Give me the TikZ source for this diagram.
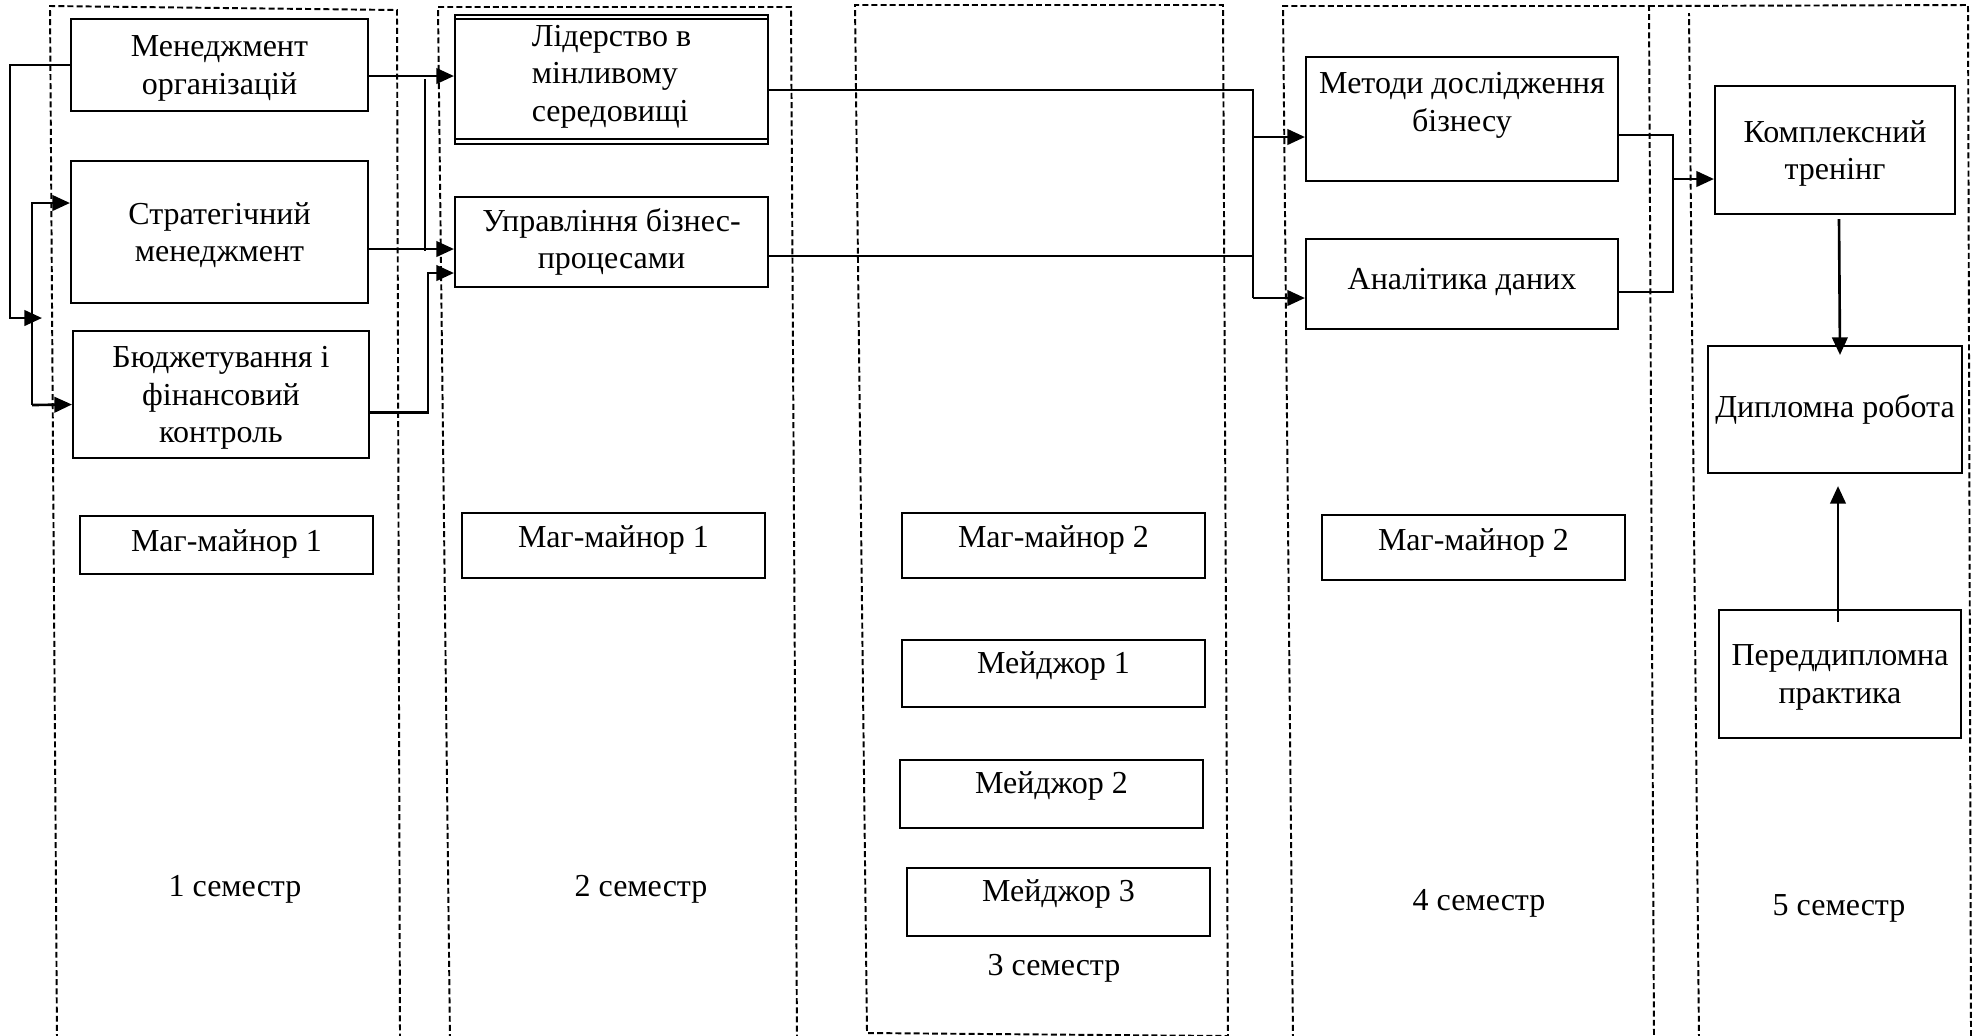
\documentclass[tikz,border=0pt]{standalone}
\usepackage{fontspec}
\setmainfont{Liberation Serif}
\usetikzlibrary{calc,arrows.meta}

\tikzset{
	box/.style={draw, line width=0.6pt, inner sep=0pt, align=center},
	wh/.style 2 args={minimum width=#1*0.01cm, minimum height=#2*0.01cm},
	lift/.style={text height=6.3pt, text depth=#1},
	sink/.style={text depth=0pt},
	col/.style={line width=0.55pt, dash pattern=on 1.7pt off 0.9pt},
	link/.style={line width=0.75pt},
	arr/.style={-{Triangle[length=5pt,width=4.4pt]}},
}

\begin{document}
\begin{tikzpicture}[x=0.01cm, y=-0.01cm, font=\fontsize{9.1}{10.7}\selectfont]
\useasboundingbox (0,0) rectangle (1972,1035);

% semesters
\draw[col] (57,1040) -- (50,6) -- (397,10) -- (400,1040);
\draw[col] (450,1040) -- (438,7) -- (791,7) -- (797,1040);
\draw[col] (1228,1040) -- (1223,5) -- (855,5) -- (867,1033) -- (1228,1036);
\draw[col] (1293,1040) -- (1283,6) -- (1649,6) -- (1654,1040);
\draw[col] (1699,1040) -- (1689,13);
\draw[col] (1649,6) -- (1968,5) -- (1971,1040);

% 1 semester
\node[box, wh={297}{92}, sink] (mo) at (219.5,65) {Менеджмент\\організацій};
\node[box, wh={297}{142}, sink] (st) at (219.5,232) {Стратегічний\\менеджмент};
\node[box, wh={296}{127}, sink] (bu) at (221,394.5) {Бюджетування і\\фінансовий\\контроль};
\node[box, wh={293}{58}, lift=2.8pt] (mm1) at (226.5,545) {Маг-майнор 1};
\node (s1) at (235,889) {1 семестр};

% 2 semester
\node[box, wh={313}{129}, align=left, text depth=3.5pt] (le) at (611.5,79.5) {Лідерство в\\мінливому\\середовищі};
\draw[line width=0.6pt] ([yshift=-0.05cm]le.north west) -- ([yshift=-0.05cm]le.north east);
\draw[line width=0.6pt] ([yshift=0.06cm]le.south west) -- ([yshift=0.06cm]le.south east);
\node[box, wh={313}{90}] (up) at (611.5,242) {Управління бізнес-\\процесами};
\node[box, wh={303}{65}, lift=4.9pt] (mm1b) at (613.5,545.5) {Маг-майнор 1};
\node (s2) at (641,889) {2 семестр};

% 3 semester
\node[box, wh={303}{65}, lift=4.9pt] (mm2) at (1053.5,545.5) {Маг-майнор 2};
\node[box, wh={303}{67}, lift=6.3pt] (mj1) at (1053.5,673.5) {Мейджор 1};
\node[box, wh={303}{68}, lift=6.6pt] (mj2) at (1051.5,794) {Мейджор 2};
\node[box, wh={303}{68}, lift=6.6pt] (mj3) at (1058.5,902) {Мейджор 3};
\node (s3) at (1054,968) {3 семестр};

% 4 semester
\node[box, wh={312}{124}, text depth=9.6pt] (me) at (1462,119) {Методи дослідження\\бізнесу};
\node[box, wh={312}{90}, lift=3.2pt] (an) at (1462,284) {Аналітика даних};
\node[box, wh={303}{65}, lift=4.5pt] (mm2b) at (1473.5,547.5) {Маг-майнор 2};
\node (s4) at (1479,903) {4 семестр};

% 5 semester
\node[box, wh={240}{128}, sink] (ko) at (1835,150) {Комплексний\\тренінг};
\node[box, wh={254}{127}] (di) at (1835,409.5) {Дипломна робота};
\node[box, wh={242}{128}, sink] (pe) at (1840,674) {Переддипломна\\практика};
\node (s5) at (1839,908) {5 семестр};

% links inside 1 semester
\coordinate (l1) at (42,318);
\coordinate (l2) at (32,405);
\draw[link, arr] (mo.west) -- ++(-60,0) |- (l1);
\draw[link, arr] (l2) |- ($(st.west)+(0,-29)$);
\draw[link, arr] (l2) -- ($(bu.west)+(0,10)$);

% 1 -> 2
\coordinate (r1a) at (425,79);
\coordinate (r1b) at (425,251);
\coordinate (r2) at (428,273);
\draw[link, arr] ($(mo.east)+(0,11)$) -- ($(le.west)+(0,-3.5)$);
\draw[link, arr] ($(st.east)+(0,17)$) -- ($(up.west)+(0,7)$);
\draw[link] (r1a) -- (r1b);
\draw[link, arr] ($(bu.east)+(0,18)$) -| (r2) -- ($(up.west)+(0,31)$);

% 2 -> 4
\coordinate (r3a) at (1253,137);
\coordinate (r3b) at (1253,298);
\draw[link] ($(le.east)+(0,10.5)$) -| (r3b);
\draw[link] ($(up.east)+(0,14)$) -| (r3a);
\draw[link, arr] (r3a) -- (r3a -| me.west);
\draw[link, arr] (r3b) -- (r3b -| an.west);

% 4 -> 5
\coordinate (r4) at (1673,179);
\draw[link] ($(me.east)+(0,16)$) -| (r4);
\draw[link] ($(an.east)+(0,8)$) -| (r4);
\draw[link, arr] (r4) -- (r4 -| ko.west);

% 5 semester
\draw[link, arr] ($(ko.south)+(4,4)$) -- ($(di.north)+(5,10)$);
\draw[link, arr] ($(pe.north)+(-2,13)$) -- ($(pe.north |- di.south)+(-2,12)$);

\end{tikzpicture}
\end{document}
